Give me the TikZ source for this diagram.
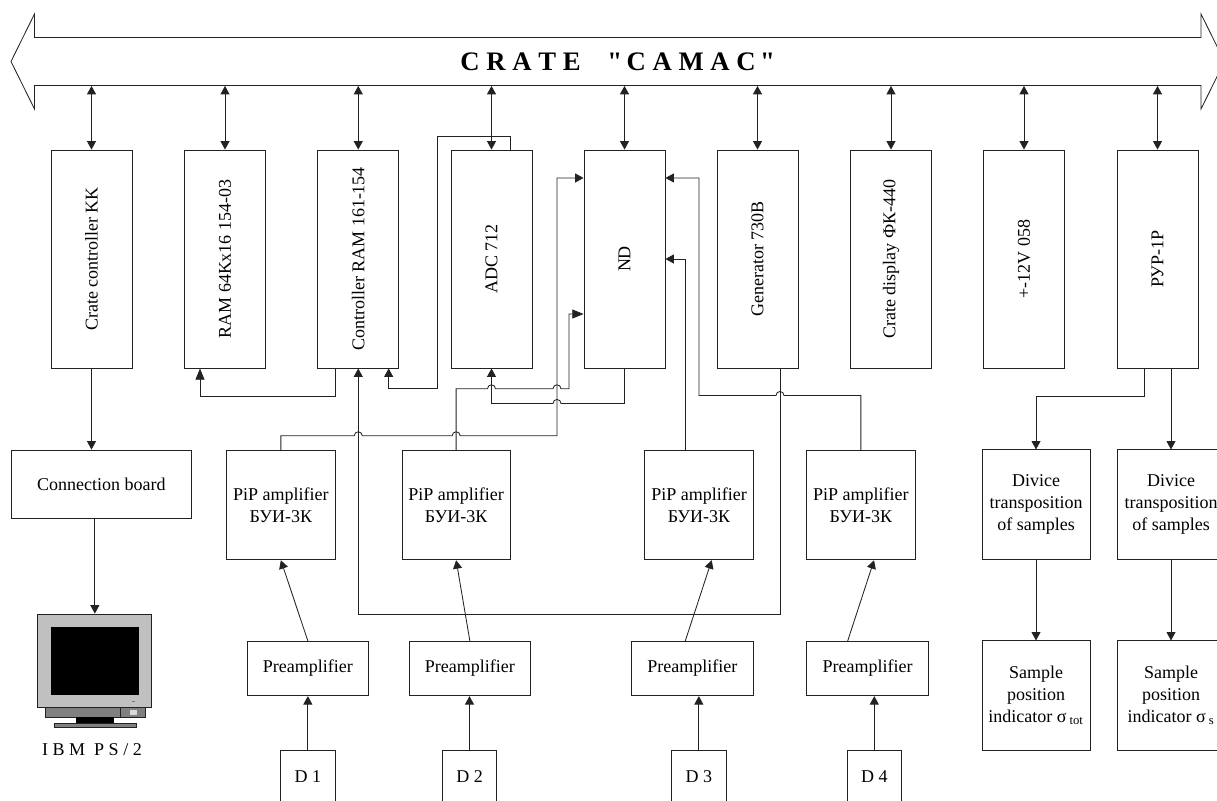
\documentclass[tikz,border=0pt]{standalone}
\usepackage{fontspec}
\setmainfont[Ligatures=TeXOff]{Liberation Serif}
\usetikzlibrary{arrows.meta,positioning}
\definecolor{dark}{HTML}{222222}
\definecolor{caseGray}{HTML}{C0C0C0}
\definecolor{baseGray}{HTML}{808080}
\newcommand{\ibmstand}{%
    % stand under the case, px coordinates
    \draw[fill=baseGray] (45,707) rectangle (120,717);
    \draw[fill=baseGray] (120,707) rectangle (145,717);
    \fill[caseGray!60!white] (130,710) rectangle (137,715);
    \fill[black] (76,717) rectangle (114,723);
    \draw[fill=baseGray] (54,723) rectangle (136,727);
    \fill[green!80!black] (131.5,700.5) rectangle (134.5,701.5);
}

\begin{document}
\begin{tikzpicture}[x=0.025cm, y=-0.025cm, line width=0.6pt, draw=dark,
    every node/.style={font=\fontsize{12.8pt}{15.5pt}\selectfont},
    block/.style={rectangle, draw=dark, align=center, inner sep=0pt},
    vblock/.style={block, minimum width=2.025cm, minimum height=5.45cm},
    pipbox/.style={block, minimum width=2.71cm, minimum height=2.74cm},
    prebox/.style={block, minimum width=3.04cm, minimum height=1.36cm},
    detbox/.style={block, minimum width=1.36cm, minimum height=1.33cm},
    devbox/.style={block, minimum width=2.7cm, minimum height=2.73cm},
    both/.style={{Triangle[width=6.4pt,length=6pt]}-{Triangle[width=6.4pt,length=6pt]}},
    arr/.style={-{Triangle[width=6.4pt,length=6pt]}},
    bigarr/.style={-{Triangle[width=6.4pt,length=8pt]}}
]
    \clip (0,0) rectangle (1217,801);

    % Crate bus
    \draw (34.5,37.5) -- (1201,37.5) -- (1201,14) -- (1224.5,61.5) -- (1201,109) -- (1201,85.5)
        -- (34.5,85.5) -- (34.5,109) -- (11,61.5) -- (34.5,14) -- cycle;
    \node[rectangle, minimum width=29.16cm, minimum height=1.2cm, inner sep=0pt,
        font=\fontsize{19pt}{19pt}\selectfont\bfseries] (bus) at (617.75,61.5)
        {C R A T E \ \ \ "\,C A M A C\,"};

    % Modules
    \node[vblock, label={[rotate=90]center:Crate controller KK}] (kk) at (91.5,259) {};
    \node[vblock, label={[rotate=90]center:RAM 64Kx16 154-03}] (ram) at (225,259) {};
    \node[vblock, label={[rotate=90]center:Controller RAM 161-154}] (ctrl) at (358.25,259) {};
    \node[vblock, label={[rotate=90]center:ADC 712}] (adc) at (491.5,259) {};
    \node[vblock, label={[rotate=90]center:ND}] (nd) at (624.5,259) {};
    \node[vblock, label={[rotate=90]center:Generator 730B}] (gen) at (757.5,259) {};
    \node[vblock, label={[rotate=90]center:Crate display ФК-440}] (disp) at (891,259) {};
    \node[vblock, label={[rotate=90]center:+-12V 058}] (pwr) at (1024,259) {};
    \node[vblock, label={[rotate=90]center:РУР-1Р}] (rur) at (1157.5,259) {};

    % Bus links
    \foreach \m in {kk,ram,ctrl,adc,nd,gen,disp,pwr,rur}
        \draw[both] (\m.north) -- (\m.north |- bus.south);

    % Computer side
    \node[block, minimum width=4.5cm, minimum height=1.71cm] (board) at (101.4,484.2) {Connection board};
    \node[rectangle, draw=dark, fill=caseGray, minimum width=2.85cm, minimum height=2.325cm] (monitor) at (94.85,660.5) {};
    \node[rectangle, fill=black, minimum width=2.2cm, minimum height=1.7cm] (screen) at (95,661) {};
    \ibmstand
    \node (pc) at (92,750) {I B M \ P S / 2};
    \draw[arr] (kk.south) -- (kk.south |- board.north);
    \draw[arr] (monitor.north |- board.south) -- (monitor.north);

    % Amplifiers
    \node[pipbox] (pip1) at (280.85,505) {PiP amplifier\\БУИ-3К};
    \node[pipbox] (pip2) at (456.15,505) {PiP amplifier\\БУИ-3К};
    \node[pipbox] (pip3) at (699,505) {PiP amplifier\\БУИ-3К};
    \node[pipbox] (pip4) at (860.85,505) {PiP amplifier\\БУИ-3К};
    \node[prebox] (pre1) at (307.85,668.5) {Preamplifier};
    \node[prebox] (pre2) at (469.85,668.5) {Preamplifier};
    \node[prebox] (pre3) at (692.3,668.5) {Preamplifier};
    \node[prebox] (pre4) at (867.5,668.5) {Preamplifier};
    \node[detbox] (det1) at (307.85,776.7) {D 1};
    \node[detbox] (det2) at (469.5,776.7) {D 2};
    \node[detbox] (det3) at (698.85,776.7) {D 3};
    \node[detbox] (det4) at (874.3,776.7) {D 4};

    % Detector chains
    \draw[arr] (det1.north) -- (det1.north |- pre1.south);
    \draw[arr] (det2.north) -- (det2.north |- pre2.south);
    \draw[arr] (det3.north) -- (det3.north |- pre3.south);
    \draw[arr] (det4.north) -- (det4.north |- pre4.south);
    \draw[arr] (pre1.north) -- (pip1.south);
    \draw[arr] (pre2.north) -- (pip2.south);
    \draw[arr] ([xshift=-0.175cm]pre3.north) -- ([xshift=0.3175cm]pip3.south);
    \draw[arr] ([xshift=-0.495cm]pre4.north) -- ([xshift=0.33cm]pip4.south);

    % Wires around ND
    \draw[arr] (pip1.north) -- ++(0,-14) -- ++(73.4,0) arc[start angle=180, end angle=360, radius=4]
        -- ++(89.9,0) arc[start angle=180, end angle=360, radius=4]
        -- ++(96.85,0) |- ([yshift=2.025cm]nd.west);
    \draw[bigarr] (pip2.north) -- ++(0,-61) -- ++(31.35,0) arc[start angle=180, end angle=360, radius=4]
        -- ++(57.5,0) arc[start angle=180, end angle=360, radius=4]
        -- ++(8,0) |- ([yshift=-1.375cm]nd.west);
    \draw[arr] (nd.south) -- ++(0,35) -- ++(-63.5,0) arc[start angle=0, end angle=-180, radius=4]
        -| (adc.south);
    \draw[arr] ([xshift=-0.3325cm]pip3.north) |- (nd.east);
    \draw[arr] (pip4.north) -- ++(0,-54.3) -- ++(-76.85,0) arc[start angle=0, end angle=-180, radius=4]
        -- ++(-77,0) |- ([yshift=2.025cm]nd.east);

    % Wires to memory
    \draw[arr] ([xshift=0.5625cm]gen.south) -- ++(0,246) -| (ctrl.south);
    \draw[bigarr] ([xshift=-0.58cm]ctrl.south) -- ++(0,28) -| ([xshift=-0.625cm]ram.south);
    \draw[arr] ([xshift=0.4625cm]adc.north) -- ++(0,-13.3) -- ++(-72.3,0) -- ++(0,252.3)
        -| ([xshift=0.76cm]ctrl.south);

    % Sample changers
    \node[devbox] (dev1) at (1036,504.5) {Divice\\transposition\\of samples};
    \node[devbox] (dev2) at (1171,504.5) {Divice\\transposition\\of samples};
    \node[devbox] (ind1) at (1036,695.5) {Sample\\position\\indicator σ\,\textsubscript{tot}};
    \node[devbox] (ind2) at (1171,695.5) {Sample\\position\\indicator σ\,\textsubscript{s}};
    \draw[arr] ([xshift=-0.3375cm]rur.south) -- ++(0,28) -| (dev1.north);
    \draw[arr] (dev2.north |- rur.south) -- (dev2.north);
    \draw[arr] (dev1.south) -- (ind1.north);
    \draw[arr] (dev2.south) -- (ind2.north);
\end{tikzpicture}
\end{document}
